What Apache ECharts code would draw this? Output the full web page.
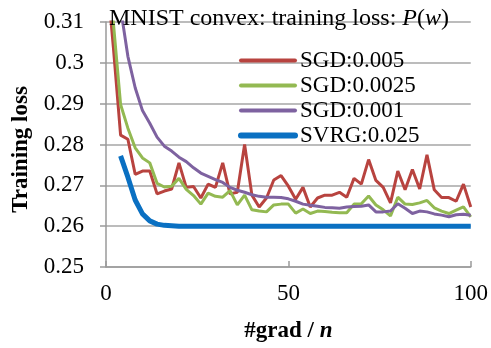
<!DOCTYPE html>
<html>
<head>
<meta charset="utf-8">
<script src="https://cdn.jsdelivr.net/npm/echarts@6/dist/echarts.min.js"></script>
<style>
html,body{margin:0;padding:0;background:#fff;}
#chart{width:491px;height:348px;}
</style>
</head>
<body>
<div id="chart"></div>
<script>
// #grad / n sample positions
var steps = [0,2,4,6,8,10,12,14,16,18,20,22,24,26,28,30,32,34,36,38,40,42,44,46,48,50,
             52,54,56,58,60,62,64,66,68,70,72,74,76,78,80,82,84,86,88,90,92,94,96,98,100];

var seriesNames = ['SGD:0.005', 'SGD:0.0025', 'SGD:0.001', 'SVRG:0.025'];

var sgd005 = [0.324,0.304,0.2823,0.2813,0.2727,0.2735,0.2735,0.2679,0.2686,0.2691,0.2755,0.2695,0.2697,0.2669,0.2703,0.2695,
              0.2755,0.2679,0.2683,0.2800,0.2676,0.2647,0.2669,0.2713,0.2724,0.2698,0.2666,0.2695,0.2647,0.2669,0.2676,
              0.2676,0.2683,0.2671,0.2717,0.2703,0.2763,0.2712,0.2695,0.2657,0.2735,0.2689,0.2739,0.2691,0.2775,0.2689,
              0.2670,0.2670,0.2661,0.2703,0.2647];

var sgd0025 = [0.34,0.31,0.2898,0.2840,0.2792,0.2767,0.2755,0.2705,0.2696,0.2698,0.2717,0.2690,0.2675,0.2654,0.2681,0.2673,
               0.2671,0.2687,0.2652,0.2676,0.2640,0.2637,0.2635,0.2652,0.2654,0.2654,0.2632,0.2642,0.2631,0.2637,0.2636,
               0.2634,0.2633,0.2633,0.2654,0.2655,0.2674,0.2652,0.2640,0.2625,0.2671,0.2654,0.2653,0.2657,0.2663,0.2645,
               0.2637,0.2631,0.2639,0.2647,0.2623];

var sgd001 = [0.36,0.33,0.3134,0.3016,0.2939,0.2883,0.2852,0.2818,0.2796,0.2784,0.2769,0.2758,0.2743,0.2730,0.2722,0.2714,
              0.2707,0.2695,0.2688,0.2683,0.2677,0.2673,0.2671,0.2671,0.2670,0.2667,0.2661,0.2654,0.2651,0.2649,0.2646,
              0.2645,0.2644,0.2647,0.2648,0.2649,0.2652,0.2635,0.2635,0.2637,0.2655,0.2644,0.2631,0.2637,0.2635,0.2630,
              0.2627,0.2623,0.2628,0.2629,0.2627];

var svrg025 = [null,null,0.2772,0.2720,0.2664,0.2630,0.2613,0.2605,0.2602,0.2601,0.2600,0.2600,0.2600,0.2600,0.2600,0.2600,
               0.2600,0.2600,0.2600,0.2600,0.2600,0.2600,0.2600,0.2600,0.2600,0.2600,0.2600,0.2600,0.2600,0.2600,0.2600,
               0.2600,0.2600,0.2600,0.2600,0.2600,0.2600,0.2600,0.2600,0.2600,0.2600,0.2600,0.2600,0.2600,0.2600,0.2600,
               0.2600,0.2600,0.2600,0.2600,0.2600];

var yTicks = {min: 0.25, max: 0.31, interval: 0.01};
var xTicks = {min: 0, max: 100, interval: 50};

function pairs(vals) {
  return steps.map(function (x, i) { return [x, vals[i]]; });
}

var FONT = 'Liberation Serif';
var chart = echarts.init(document.getElementById('chart'));
var colors = ['#B8433F', '#93B952', '#7E62A0', '#0A70C2'];
var widths = [3, 3, 3, 5];
var legendWidths = [4, 4, 4, 6];
var values = [sgd005, sgd0025, sgd001, svrg025];

chart.setOption({
  animation: false,
  backgroundColor: '#ffffff',
  title: {
    text: 'MNIST convex: training loss: {i|P}({i|w})',
    left: 104,
    top: 2,
    textStyle: {
      fontFamily: FONT, fontSize: 24, fontWeight: 'normal', color: '#000',
      rich: { i: { fontFamily: FONT, fontSize: 24, fontStyle: 'italic', color: '#000' } }
    }
  },
  legend: {
    orient: 'vertical',
    left: 233,
    top: 43,
    itemWidth: 54,
    itemHeight: 14,
    itemGap: 0,
    itemStyle: { color: 'rgba(0,0,0,0)', borderColor: 'rgba(0,0,0,0)', borderWidth: 0 },
    textStyle: { fontFamily: FONT, fontSize: 23, color: '#000', lineHeight: 25 },
    data: seriesNames.map(function (n, k) {
      return { name: n, lineStyle: { color: colors[k], width: legendWidths[k], cap: 'round', opacity: 1 } };
    })
  },
  grid: { left: 106, right: 19, top: 22, bottom: 75.5, containLabel: false },
  xAxis: {
    type: 'value',
    min: xTicks.min, max: xTicks.max, interval: xTicks.interval,
    name: '{b|#grad / }{bi|n}',
    nameLocation: 'middle',
    nameGap: 53,
    nameTextStyle: {
      rich: {
        b: { fontFamily: FONT, fontSize: 23, fontWeight: 'bold', color: '#000' },
        bi: { fontFamily: FONT, fontSize: 23, fontWeight: 'bold', fontStyle: 'italic', color: '#000' }
      }
    },
    axisLine: { lineStyle: { color: '#9a9a9a', width: 1.5 } },
    axisTick: { inside: true, length: 6, lineStyle: { color: '#9a9a9a', width: 1.5 } },
    axisLabel: { fontFamily: FONT, fontSize: 23, color: '#000', margin: 15 },
    splitLine: { show: false }
  },
  yAxis: {
    type: 'value',
    min: yTicks.min, max: yTicks.max, interval: yTicks.interval,
    name: 'Training loss',
    nameLocation: 'middle',
    nameGap: 73,
    nameTextStyle: { fontFamily: FONT, fontSize: 23, fontWeight: 'bold', color: '#000', padding: [0, 10, 0, 0] },
    axisLine: { show: true, lineStyle: { color: '#9a9a9a', width: 1.5 } },
    axisTick: { show: true, inside: false, length: 6, lineStyle: { color: '#9a9a9a', width: 1.5 } },
    axisLabel: { fontFamily: FONT, fontSize: 23, color: '#000', margin: 22,
                 formatter: function (v) { return String(Math.round(v * 100) / 100); } },
    splitLine: { show: true, lineStyle: { color: '#a6a6a6', width: 1.5 } }
  },
  series: seriesNames.map(function (name, k) {
    return {
      name: name,
      type: 'line',
      data: pairs(values[k]),
      symbol: 'none',
      clip: true,
      connectNulls: false,
      color: colors[k],
      lineStyle: { color: colors[k], width: widths[k] },
      z: k === 3 ? 1 : 2
    };
  })
});
</script>
</body>
</html>
